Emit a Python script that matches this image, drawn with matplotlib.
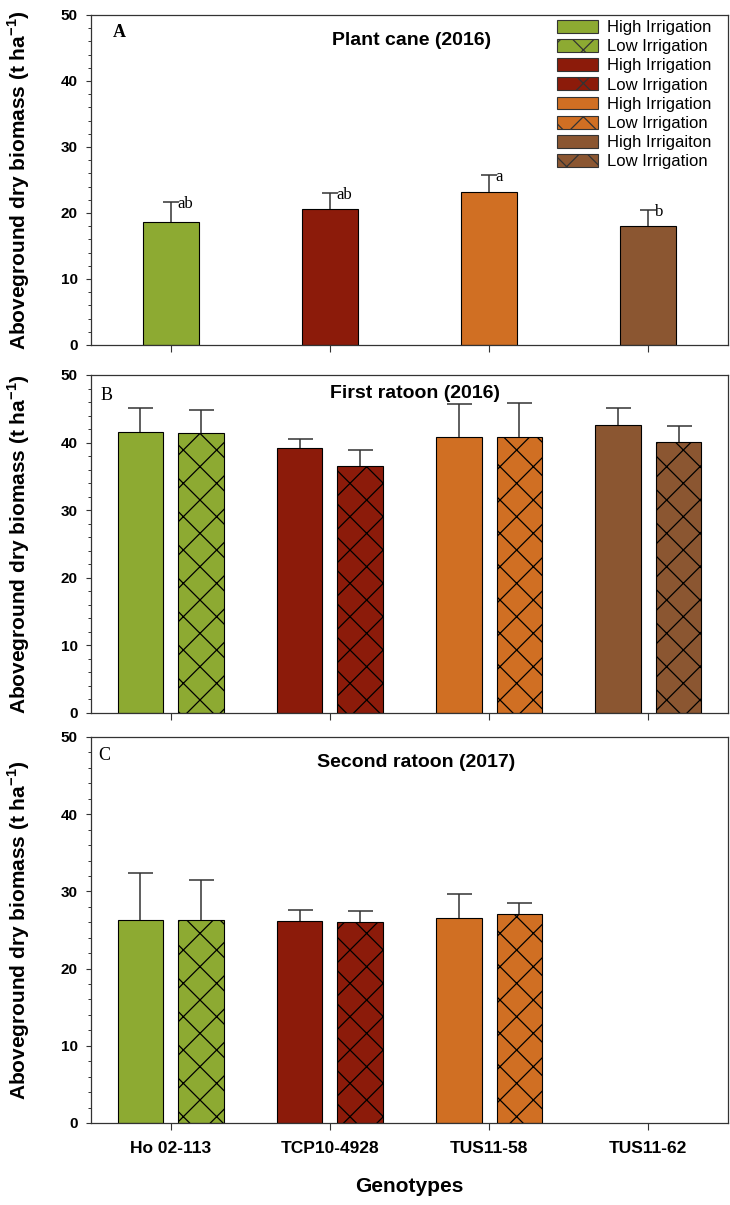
import numpy as np
import matplotlib
matplotlib.use("Agg")
import matplotlib.pyplot as plt
from matplotlib.patches import Patch
from matplotlib.ticker import MultipleLocator

# =========================
# 1. Data
# =========================
genotypes = ["Ho 02-113", "TCP10-4928", "TUS11-58", "TUS11-62"]
colors = ["#8DAA32", "#8C1B0A", "#D06F23", "#8B5631"]

# Plant cane (2016): high irrigation only
plant_cane = [18.6, 20.6, 23.2, 18.0]
plant_cane_err = [3.0, 2.5, 2.6, 2.45]
plant_cane_letters = ["ab", "ab", "a", "b"]

# First ratoon (2016)
first_high = [41.5, 39.2, 40.8, 42.6]
first_high_err = [3.55, 1.35, 4.9, 2.5]
first_low = [41.4, 36.5, 40.9, 40.1]
first_low_err = [3.35, 2.4, 5.0, 2.35]

# Second ratoon (2017), no data for TUS11-62
second_high = [26.3, 26.2, 26.5, np.nan]
second_high_err = [6.1, 1.35, 3.1, np.nan]
second_low = [26.3, 26.0, 27.1, np.nan]
second_low_err = [5.15, 1.4, 1.45, np.nan]

legend_labels = ["High Irrigation", "Low Irrigation", "High Irrigation", "Low Irrigation",
                 "High Irrigation", "Low Irrigation", "High Irrigaiton", "Low Irrigation"]

ylab = "Aboveground dry biomass (t ha$^{\\mathbf{-1}}$)"

# =========================
# 2. Style
# =========================
plt.rcParams["font.family"] = ["Liberation Sans", "DejaVu Sans"]
plt.rcParams["mathtext.fontset"] = "custom"
plt.rcParams["mathtext.bf"] = "Liberation Sans:bold"
plt.rcParams["mathtext.rm"] = "Liberation Sans:bold"
plt.rcParams["hatch.linewidth"] = 0.9
plt.rcParams["hatch.color"] = "black"

spine_col = "#333333"
x = np.arange(len(genotypes))
w_single = 0.352
w_pair = 0.285
off = 0.19

fig = plt.figure(figsize=(7.3, 12.05), dpi=100)
W, H = 730.0, 1205.0
ax_a = fig.add_axes([91 / W, 1 - 345 / H, 637 / W, 330 / H])
ax_b = fig.add_axes([91 / W, 1 - 713 / H, 637 / W, 338 / H])
ax_c = fig.add_axes([91 / W, 1 - 1123 / H, 637 / W, 386 / H])


def style_axes(ax):
    ax.set_xlim(-0.5, 3.5)
    ax.set_ylim(0, 50)
    ax.yaxis.set_major_locator(MultipleLocator(10))
    ax.yaxis.set_minor_locator(MultipleLocator(2))
    ax.set_xticks(x)
    for s in ax.spines.values():
        s.set_color(spine_col)
        s.set_linewidth(0.9)
    ax.tick_params(axis="y", which="major", direction="out", length=3.5, width=0.8,
                   color=spine_col, pad=6, labelsize=11)
    ax.tick_params(axis="y", which="minor", direction="out", length=2.2, width=0.7,
                   color=spine_col)
    ax.tick_params(axis="x", which="major", direction="out", length=5, width=0.8,
                   color=spine_col, pad=8, labelsize=12.5)
    for lab in ax.get_yticklabels():
        lab.set_fontweight("bold")
    ax.set_ylabel(ylab, fontsize=15, fontweight="bold")
    ax.yaxis.set_label_coords(-0.093, 0.5)


def draw_bars(ax, pos, vals, errs, width, hatch=None, capsize=9):
    vals = np.array(vals, dtype=float)
    errs = np.array(errs, dtype=float)
    ok = ~np.isnan(vals)
    for i in np.where(ok)[0]:
        ax.bar(pos[i], vals[i], width, color=colors[i], edgecolor="black",
               linewidth=0.8, hatch=hatch, zorder=2)
    _, caps, _ = ax.errorbar(pos[ok], vals[ok], yerr=[np.zeros(ok.sum()), errs[ok]],
                             fmt="none", ecolor="#333333", elinewidth=1.1,
                             capsize=capsize, capthick=1.1, zorder=3)
    # only the upper whisker gets a cap
    for cap in caps:
        if np.allclose(cap.get_ydata(), vals[ok]):
            cap.set_visible(False)


# =========================
# 3. Panel A - Plant cane
# =========================
style_axes(ax_a)
draw_bars(ax_a, x, plant_cane, plant_cane_err, w_single, capsize=6)
for i, lt in enumerate(plant_cane_letters):
    ax_a.text(x[i] + 0.04, plant_cane[i] + plant_cane_err[i] - 0.3, lt,
              family="Liberation Serif", fontsize=12, ha="left", va="center")
ax_a.set_xticklabels([])
ax_a.text(0.035, 0.948, "A", transform=ax_a.transAxes, family="Liberation Serif",
          fontweight="bold", fontsize=13, ha="left", va="center")
ax_a.text(0.503, 0.924, "Plant cane (2016)", transform=ax_a.transAxes,
          fontsize=14, fontweight="bold", ha="center", va="center")

handles = []
for c in colors:
    handles.append(Patch(facecolor=c, edgecolor="#333333", linewidth=0.8))
    handles.append(Patch(facecolor=c, edgecolor="#333333", linewidth=0.8, hatch="x"))
ax_a.legend(handles, legend_labels, loc="upper left", bbox_to_anchor=(0.732, 0.985),
            frameon=False, fontsize=12, borderpad=0, borderaxespad=0,
            labelspacing=0.24, handlelength=2.45, handleheight=0.8, handletextpad=0.55)

# =========================
# 4. Panel B - First ratoon
# =========================
style_axes(ax_b)
draw_bars(ax_b, x - off, first_high, first_high_err, w_pair)
draw_bars(ax_b, x + off, first_low, first_low_err, w_pair, hatch="x")
ax_b.set_xticklabels([])
ax_b.text(0.015, 0.94, "B", transform=ax_b.transAxes, family="Liberation Serif",
          fontsize=13, ha="left", va="center")
ax_b.text(0.508, 0.945, "First ratoon (2016)", transform=ax_b.transAxes,
          fontsize=14, fontweight="bold", ha="center", va="center")

# =========================
# 5. Panel C - Second ratoon
# =========================
style_axes(ax_c)
draw_bars(ax_c, x - off, second_high, second_high_err, w_pair)
draw_bars(ax_c, x + off, second_low, second_low_err, w_pair, hatch="x")
ax_c.set_xticklabels(genotypes)
for lab in ax_c.get_xticklabels():
    lab.set_fontweight("bold")
ax_c.text(0.012, 0.953, "C", transform=ax_c.transAxes, family="Liberation Serif",
          fontsize=13, ha="left", va="center")
ax_c.text(0.51, 0.933, "Second ratoon (2017)", transform=ax_c.transAxes,
          fontsize=14, fontweight="bold", ha="center", va="center")
ax_c.set_xlabel("Genotypes", fontsize=15, fontweight="bold")
ax_c.xaxis.set_label_coords(0.5, -0.14)

fig.savefig("out.png", dpi=100)
